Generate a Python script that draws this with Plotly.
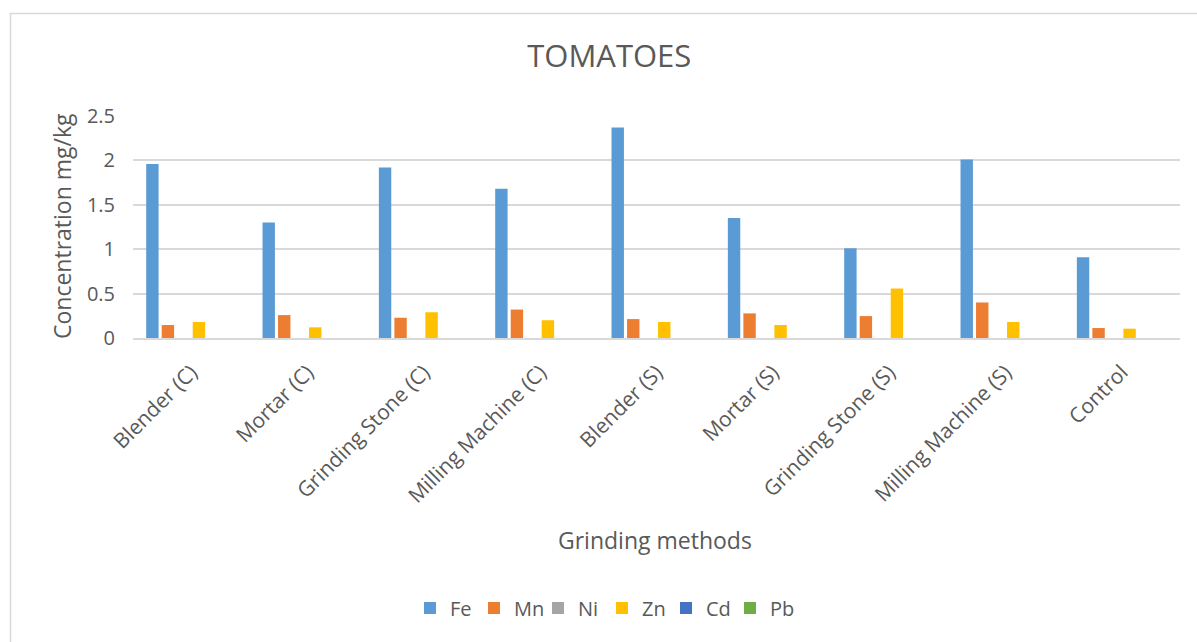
import plotly.graph_objects as go

categories = ["Blender (C)", "Mortar (C)", "Grinding Stone (C)", "Milling Machine (C)",
              "Blender (S)", "Mortar (S)", "Grinding Stone (S)", "Milling Machine (S)", "Control"]
fe = [1.96, 1.30, 1.92, 1.68, 2.37, 1.35, 1.01, 2.01, 0.91]
mn = [0.146, 0.258, 0.228, 0.32, 0.213, 0.277, 0.247, 0.40, 0.112]
ni = [0, 0, 0, 0, 0, 0, 0, 0, 0]
zn = [0.18, 0.12, 0.29, 0.20, 0.18, 0.146, 0.557, 0.18, 0.105]
cd = [0, 0, 0, 0, 0, 0, 0, 0, 0]
pb = [0, 0, 0, 0, 0, 0, 0, 0, 0]
series_names = ["Fe", "Mn", "Ni", "Zn", "Cd", "Pb"]
series_values = [fe, mn, ni, zn, cd, pb]
colors = ["#5B9BD5", "#ED7D31", "#A5A5A5", "#FFC000", "#4472C4", "#70AD47"]
y_ticks = [0, 0.5, 1, 1.5, 2, 2.5]
y_ticktext = ["0", "0.5", "1", "1.5", "2", "2.5"]

FONT = "Open Sans"
TXT = "#595959"

fig = go.Figure()
for name, vals, col in zip(series_names, series_values, colors):
    fig.add_trace(go.Bar(x=categories, y=vals, name=name, marker_color=col,
                         marker_line_width=0))

W, H = 1197, 642
L, R, T, B = 133, 17, 116, 304
pw = W - L - R
ph = H - T - B

def px_x(p):
    return (p - L) / pw

def px_y(p):
    return (H - B - p) / ph

fig.update_layout(
    width=W, height=H,
    margin=dict(l=L, r=R, t=T, b=B, autoexpand=False),
    paper_bgcolor="white", plot_bgcolor="white",
    barmode="group", bargap=0.2, bargroupgap=0.2,
    font=dict(family=FONT, color=TXT),
    title=dict(text="TOMATOES", x=0.509, xanchor="center", y=1 - 56 / H, yanchor="middle",
               yref="container", font=dict(size=31, color=TXT, family=FONT)),
    legend=dict(orientation="h", x=px_x(602), xanchor="center", xref="paper",
                y=px_y(608), yanchor="middle", font=dict(size=20, color=TXT),
                itemwidth=30, traceorder="normal", itemclick=False,
                entrywidth=19, entrywidthmode="pixels"),
    showlegend=True,
)
fig.update_xaxes(showgrid=False, showline=True, linecolor="#d9d9d9", linewidth=1.5,
                 tickangle=-45, tickfont=dict(size=21, color=TXT), ticks="",
                 ticklabelstandoff=12, fixedrange=True)
fig.update_yaxes(range=[0, 2.5], tickvals=y_ticks, ticktext=y_ticktext,
                 showgrid=True, gridcolor="#d9d9d9", gridwidth=1.5, zeroline=False,
                 tickfont=dict(size=20, color=TXT), ticks="", ticklabelstandoff=17,
                 fixedrange=True)

fig.add_annotation(text="Concentration mg/kg", xref="paper", yref="paper",
                   x=px_x(62), y=px_y(226), textangle=-90, showarrow=False,
                   font=dict(size=23, color=TXT), xanchor="center", yanchor="middle")
fig.add_annotation(text="Grinding methods", xref="paper", yref="paper",
                   x=px_x(655), y=px_y(540), showarrow=False,
                   font=dict(size=23, color=TXT), xanchor="center", yanchor="middle")

fig.add_shape(type="rect", xref="paper", yref="paper",
              x0=px_x(10.5), x1=px_x(1205), y0=px_y(650), y1=px_y(13.5),
              line=dict(color="#d9d9d9", width=1.5), fillcolor="rgba(0,0,0,0)", layer="below")

fig.write_html("out.html", config={"displayModeBar": False})
